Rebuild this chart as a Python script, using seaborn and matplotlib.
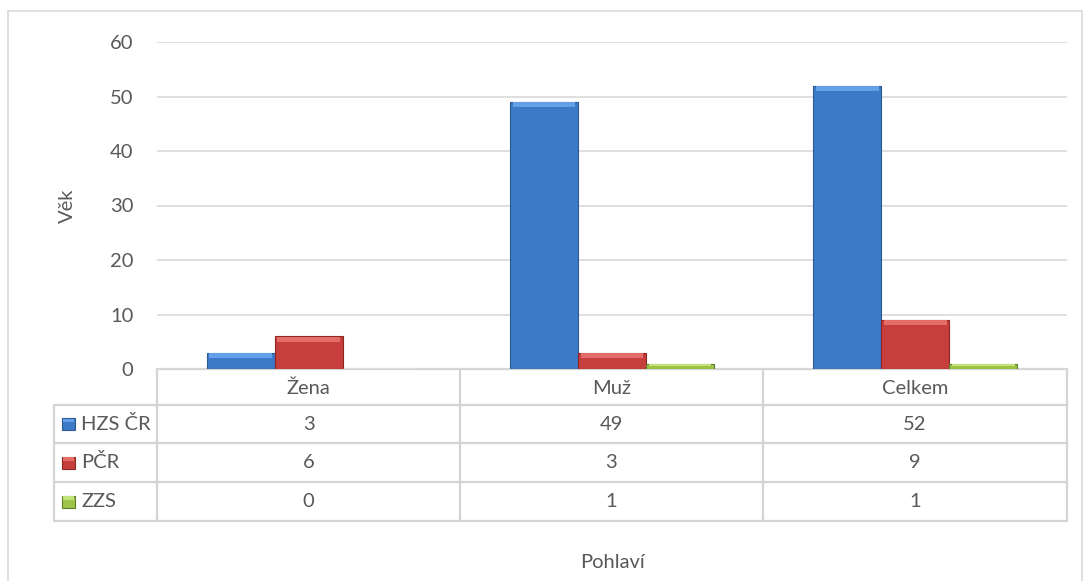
import matplotlib
matplotlib.use("Agg")
import matplotlib.pyplot as plt
from matplotlib.patches import Rectangle
import pandas as pd
import seaborn as sns

# data
categories = ["Žena", "Muž", "Celkem"]
series = ["HZS ČR", "PČR", "ZZS"]
hzs = [3, 49, 52]
pcr = [6, 3, 9]
zzs = [0, 1, 1]
yticks = [0, 10, 20, 30, 40, 50, 60]

colors = {"HZS ČR": "#3c79c6", "PČR": "#c63f3c", "ZZS": "#9dc34a"}
edges = {"HZS ČR": "#2b5a94", "PČR": "#8e2623", "ZZS": "#5f7d26"}
lights = {"HZS ČR": "#62a0e8", "PČR": "#e46d69", "ZZS": "#c4e27a"}

rows = []
for name, vals in zip(series, [hzs, pcr, zzs]):
    for cat, v in zip(categories, vals):
        rows.append({"Pohlaví": cat, "serie": name, "Věk": v})
df = pd.DataFrame(rows)

sns.set_theme(style="white")
plt.rcParams["font.family"] = ["Lato", "DejaVu Sans"]
txt = "#595959"
grid = "#d9d9d9"
fs = 14.5

W, H = 1084, 581
fig = plt.figure(figsize=(W / 100, H / 100), dpi=100)

# pixel-space overlay for frame and data table
ov = fig.add_axes([0, 0, 1, 1])
ov.set_xlim(0, W)
ov.set_ylim(H, 0)
ov.axis("off")

# plot area: x 157..1067 px, y 42..369 px
ax = fig.add_axes([157 / W, 1 - 369 / H, (1067 - 157) / W, (369 - 42) / H])
sns.barplot(data=df, x="Pohlaví", y="Věk", hue="serie", hue_order=series,
            order=categories, palette=colors, width=0.673, gap=0,
            saturation=1, legend=False, ax=ax)
ax.set_xlim(-0.5, 2.5)
ax.set_ylim(0, 60)
ax.set_yticks(yticks)
ax.yaxis.grid(True, color=grid, linewidth=1.2)
ax.set_axisbelow(True)
for s in ax.spines.values():
    s.set_visible(False)
ax.set_xticks([])
ax.set_xlabel("")
ax.set_ylabel("")
ax.tick_params(axis="y", length=0, pad=17, labelsize=fs, labelcolor=txt)
ax.patch.set_alpha(0)

# bevel look on each bar
n = len(categories)
for i, p in enumerate(ax.patches):
    name = series[i // n]
    x, y, w, h = p.get_x(), p.get_y(), p.get_width(), p.get_height()
    if h <= 0:
        continue
    p.set_edgecolor(edges[name])
    p.set_linewidth(0.8)
    band = min(1.0, h * 0.4)
    ax.add_patch(Rectangle((x + w * 0.04, y + h - band), w * 0.92, band * 0.9,
                           facecolor=lights[name], edgecolor="none", zorder=p.get_zorder() + 0.1))

ax.text(-0.098, 0.5, "Věk", transform=ax.transAxes, rotation=90, ha="center",
        va="center", fontsize=fs, color=txt)

# outer frame
lc = "#d9d9d9"
ov.plot([8, 8], [H, 11], color=lc, lw=1.2)
ov.plot([8, 1082], [11, 11], color=lc, lw=1.2)
ov.plot([1082, 1082], [11, H], color=lc, lw=1.2)

# data table
col_x = [54, 157, 460, 763, 1067]
row_y = [369, 405, 443, 482, 521]
tl = "#d4d4d4"
ov.plot([157, 1067], [369, 369], color=tl, lw=1.6)
for yy in row_y[1:]:
    ov.plot([54, 1067], [yy, yy], color=tl, lw=1.6)
ov.plot([54, 54], [405, 521], color=tl, lw=1.6)
for xx in col_x[1:]:
    ov.plot([xx, xx], [369, 521], color=tl, lw=1.6)

for j, cat in enumerate(categories):
    cx = (col_x[j + 1] + col_x[j + 2]) / 2
    ov.text(cx, (row_y[0] + row_y[1]) / 2 + 1, cat, ha="center", va="center",
            fontsize=fs, color=txt)

for r, (name, vals) in enumerate(zip(series, [hzs, pcr, zzs])):
    cy = (row_y[r + 1] + row_y[r + 2]) / 2
    ov.add_patch(Rectangle((62, cy - 6), 13, 12, facecolor=colors[name],
                           edgecolor=edges[name], lw=0.8))
    ov.add_patch(Rectangle((63, cy - 5.5), 11, 3.5, facecolor=lights[name],
                           edgecolor="none"))
    ov.text(81, cy, name, ha="left", va="center", fontsize=fs, color=txt)
    for j, v in enumerate(vals):
        cx = (col_x[j + 1] + col_x[j + 2]) / 2
        ov.text(cx, cy, str(v), ha="center", va="center", fontsize=fs, color=txt)

ov.text((157 + 1067) / 2, 563, "Pohlaví", ha="center", va="center",
        fontsize=fs, color=txt)

fig.savefig("out.png", dpi=100)
